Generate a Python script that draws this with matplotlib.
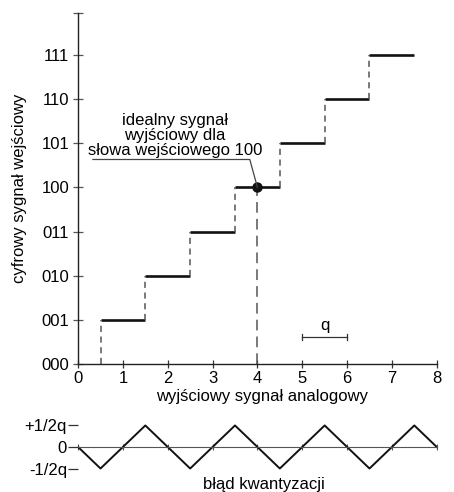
import numpy as np
import matplotlib
matplotlib.use("Agg")
import matplotlib.pyplot as plt

plt.rcParams['font.family'] = ['Liberation Sans', 'DejaVu Sans']
plt.rcParams['font.size'] = 12

# data
codes = ['000', '001', '010', '011', '100', '101', '110', '111']
step_starts = [0.5, 1.5, 2.5, 3.5, 4.5, 5.5, 6.5]
step_levels = [1, 2, 3, 4, 5, 6, 7]
x_ticks = [0, 1, 2, 3, 4, 5, 6, 7, 8]
ideal_x, ideal_y = 4, 4
# quantisation error corners (x, error in q)
err_x = [0, 0.5, 1.5, 2.5, 3.5, 4.5, 5.5, 6.5, 7.5, 8]
err_y = [0, -0.5, 0.5, -0.5, 0.5, -0.5, 0.5, -0.5, 0.5, 0]
err_ticks = [0.5, 0, -0.5]
err_labels = ['+1/2q', '0', '-1/2q']

fig = plt.figure(figsize=(4.54, 4.92), dpi=100)
ax = fig.add_axes([0.172, 0.260, 0.790, 0.714])

for x0, lvl in zip(step_starts, step_levels):
    ax.plot([x0, x0 + 1], [lvl, lvl], color='#111111', lw=1.9, solid_capstyle='butt')
    ax.plot([x0, x0], [lvl - 1, lvl], color='#555555', lw=1.1, ls=(0, (4, 3)))

ax.plot([ideal_x, ideal_x], [0, ideal_y], color='#555555', lw=1.1, ls=(0, (7, 4)))
ax.plot([ideal_x], [ideal_y], 'o', color='#111111', ms=6.5)

# leader line to the label
ax.plot([0.33, 3.83, ideal_x], [4.63, 4.63, ideal_y], color='#444444', lw=0.9)
ax.text(2.16, 5.17, 'idealny sygnał\nwyjściowy dla\nsłowa wejściowego 100',
        ha='center', va='center', fontsize=12, linespacing=1.0)

# q bracket
ax.plot([5, 6], [0.62, 0.62], color='#333333', lw=0.9)
ax.plot([5, 5], [0.55, 0.69], color='#333333', lw=0.9)
ax.plot([6, 6], [0.55, 0.69], color='#333333', lw=0.9)
ax.text(5.5, 0.70, 'q', ha='center', va='bottom', fontsize=12)

ax.set_xlim(0, 8)
ax.set_ylim(0, 7.95)
ax.set_xticks(x_ticks)
ax.set_yticks(list(range(len(codes))) + [7.95])
ax.set_yticklabels(codes + [''])
ax.spines['top'].set_visible(False)
ax.spines['right'].set_visible(False)
for s in ['left', 'bottom']:
    ax.spines[s].set_color('#222222')
    ax.spines[s].set_linewidth(1.0)
ax.tick_params(axis='x', direction='inout', length=6, width=0.9, color='#333333', pad=2)
ax.tick_params(axis='y', direction='inout', length=7, width=0.9, color='#555555', pad=3)

fig.text(20 / 454, 1 - 188 / 492, 'cyfrowy sygnał wejściowy', rotation=90,
         ha='center', va='center', fontsize=12)
fig.text(262 / 454, 1 - 396 / 492, 'wyjściowy sygnał analogowy',
         ha='center', va='center', fontsize=12)

# quantisation error panel
ax2 = fig.add_axes([0.172, 0.039, 0.790, 0.105])
ax2.plot(err_x, err_y, color='#111111', lw=1.4)
ax2.set_xlim(0, 8)
ax2.set_ylim(-0.6, 0.6)
for s in ['top', 'right', 'left']:
    ax2.spines[s].set_visible(False)
ax2.spines['bottom'].set_position(('data', 0))
ax2.spines['bottom'].set_color('#555555')
ax2.set_xticks(x_ticks)
ax2.set_xticklabels([])
ax2.tick_params(axis='x', direction='inout', length=5, width=0.8, color='#555555')
ax2.set_yticks(err_ticks)
ax2.set_yticklabels(err_labels)
ax2.tick_params(axis='y', direction='out', length=7, width=0.9, color='#333333', pad=1)
fig.text(264 / 454, 1 - 484 / 492, 'błąd kwantyzacji', ha='center', va='center', fontsize=12)

fig.savefig('out.png', dpi=100)
